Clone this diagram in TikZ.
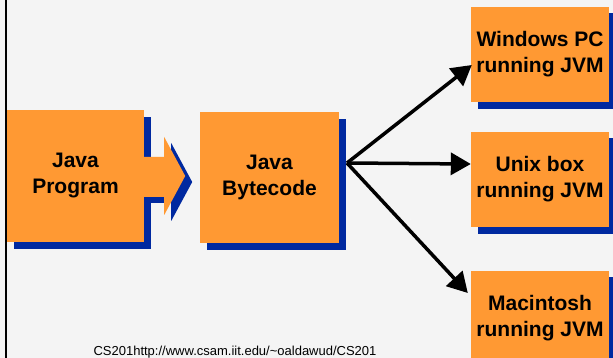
\documentclass[tikz,border=0pt]{standalone}
\usepackage{fontspec}
\setmainfont{Liberation Sans}
\usetikzlibrary{shadows,arrows.meta,calc}
\definecolor{boxorange}{RGB}{255,153,51}
\definecolor{shadowblue}{RGB}{0,41,160}
\definecolor{bgcol}{RGB}{244,244,244}
\begin{document}
\begin{tikzpicture}[x=1pt,y=-1pt,
  box/.style={fill=boxorange, draw=none, minimum width=139pt, minimum height=131pt,
    inner sep=0pt, align=center, font=\fontsize{21}{26}\selectfont\bfseries,
    copy shadow={shadow xshift=7pt, shadow yshift=-7pt, fill=shadowblue, draw=none}},
  smallbox/.style={box, minimum width=138pt, minimum height=95pt,
    copy shadow={shadow xshift=7pt, shadow yshift=-6pt, fill=shadowblue, draw=none}},
  conn/.style={line width=3.5pt, -{Triangle[length=20pt,width=22pt]}},
  footer/.style={font=\fontsize{13}{15}\selectfont, anchor=base, inner sep=0pt}
]
\useasboundingbox (0,0) rectangle (613,358);
\fill[bgcol] (0,0) rectangle (613,358);
\clip (0,0) rectangle (613,358);
\draw[line width=2pt] (6,0) -- (6,358);

\node[box, minimum width=137pt, minimum height=132pt] (jp) at (75.5,176) {Java\\Program};
% block arrow shadow (offset 7,6)
\fill[shadowblue] ($(jp.east)+(7,-13)$) -- ($(jp.east)+(27,-13)$) -- ($(jp.east)+(27,-33)$)
  -- ($(jp.east)+(48,6)$) -- ($(jp.east)+(27,45)$) -- ($(jp.east)+(27,27)$) -- ($(jp.east)+(7,27)$) -- cycle;
% block arrow
\fill[boxorange] ($(jp.east)+(0,-19)$) -- ($(jp.east)+(20,-19)$) -- ($(jp.east)+(20,-39)$)
  -- ($(jp.east)+(41,0)$) -- ($(jp.east)+(20,39)$) -- ($(jp.east)+(20,21)$) -- ($(jp.east)+(0,21)$) -- cycle;

\node[box] (bc) at (269.5,177.5) {Java\\Bytecode};

\node[smallbox] (win) at (540,54.5) {Windows PC\\running JVM};
\node[smallbox] (unix) at (540,179.5) {Unix box\\running JVM};
\node[smallbox] (mac) at (540,318) {Macintosh\\running JVM};

\coordinate (src) at (347,163);
\draw[conn] (src) -- ($(win.west)+(1,10.5)$);
\draw[conn] (src) -- ($(unix.west)+(0,-15.5)$);
\draw[conn] (src) -- ($(mac.west)+(-3,-25)$);

\node[footer] (foot) at (235,355) {CS201http://www.csam.iit.edu/\textasciitilde oaldawud/CS201};
\end{tikzpicture}
\end{document}
